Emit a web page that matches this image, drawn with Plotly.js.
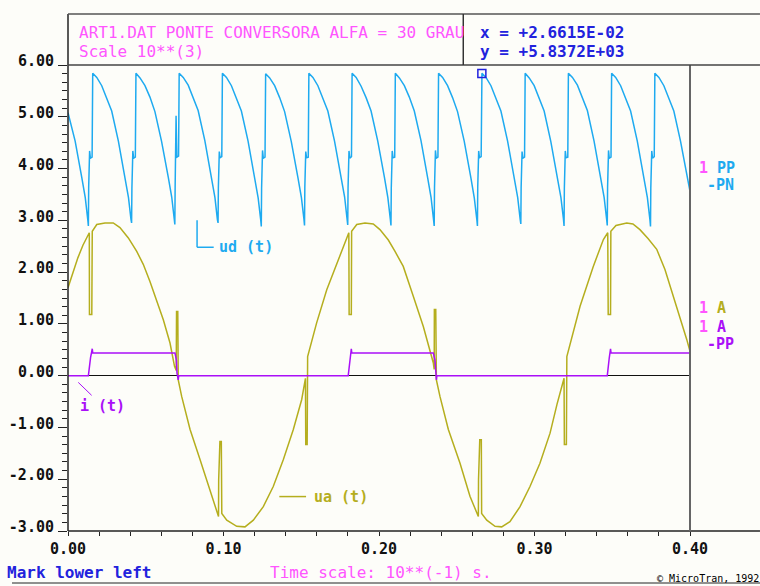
<!DOCTYPE html>
<html><head><meta charset="utf-8">
<script src="https://cdn.plot.ly/plotly-3.0.1.min.js"></script>
<style>html,body{margin:0;padding:0;background:#fdfdf9;}#c{width:760px;height:586px;}</style>
</head><body><div id="c"></div>
<script>
// ---- data (time in 10**(-1) s, values in 10**3) ----
const udT = [
 0.0000,0.0046,0.0089,0.0111,0.0127,0.0131,0.0133,0.0139,0.0144,0.0155,
 0.0159,0.0185,0.0217,0.0249,0.0281,0.0324,0.0367,0.0389,0.0405,0.0409,0.0411,0.0417,0.0422,0.0433,
 0.0437,0.0463,0.0495,0.0527,0.0559,0.0602,0.0645,0.0667,0.0683,0.0687,0.0689,0.0695,0.0700,0.0711,
 0.0715,0.0741,0.0773,0.0805,0.0837,0.0880,0.0923,0.0945,0.0961,0.0965,0.0967,0.0973,0.0978,0.0989,
 0.0993,0.1019,0.1051,0.1083,0.1115,0.1158,0.1201,0.1223,0.1239,0.1243,0.1245,0.1251,0.1256,0.1267,
 0.1271,0.1297,0.1329,0.1361,0.1393,0.1436,0.1479,0.1501,0.1517,0.1521,0.1523,0.1529,0.1534,0.1545,
 0.1549,0.1575,0.1607,0.1639,0.1671,0.1714,0.1757,0.1779,0.1795,0.1799,0.1801,0.1807,0.1812,0.1823,
 0.1827,0.1853,0.1885,0.1917,0.1949,0.1992,0.2035,0.2057,0.2073,0.2077,0.2079,0.2085,0.2090,0.2101,
 0.2105,0.2131,0.2163,0.2195,0.2227,0.2270,0.2313,0.2335,0.2351,0.2355,0.2357,0.2363,0.2368,0.2379,
 0.2383,0.2409,0.2441,0.2473,0.2505,0.2548,0.2591,0.2613,0.2629,0.2633,0.2635,0.2641,0.2646,0.2657,
 0.2662,0.2688,0.2720,0.2752,0.2784,0.2827,0.2870,0.2892,0.2908,0.2912,0.2914,0.2920,0.2925,0.2936,
 0.2940,0.2966,0.2998,0.3030,0.3062,0.3105,0.3148,0.3170,0.3186,0.3190,0.3192,0.3198,0.3203,0.3214,
 0.3218,0.3244,0.3276,0.3308,0.3340,0.3383,0.3426,0.3448,0.3464,0.3468,0.3470,0.3476,0.3481,0.3492,
 0.3496,0.3522,0.3554,0.3586,0.3618,0.3661,0.3704,0.3726,0.3742,0.3746,0.3748,0.3754,0.3759,0.3770,
 0.3774,0.3800,0.3832,0.3864,0.3896,0.3939,0.3982,0.4000
];
const udV = [
 5.08,4.53,3.82,3.44,3.02,2.89,3.64,4.34,4.20,4.22,
 5.84,5.76,5.60,5.37,5.11,4.53,3.82,3.44,3.02,2.95,3.62,4.34,4.20,4.22,
 5.84,5.75,5.60,5.38,5.10,4.52,3.83,3.45,3.03,2.92,3.64,5.02,4.22,4.24,
 5.84,5.76,5.61,5.37,5.12,4.54,3.82,3.44,3.01,2.95,3.63,4.33,4.21,4.23,
 5.84,5.76,5.60,5.36,5.11,4.53,3.81,3.43,3.02,2.88,3.62,4.35,4.20,4.22,
 5.83,5.75,5.60,5.37,5.10,4.52,3.82,3.44,3.03,2.90,3.64,4.33,4.21,4.22,
 5.84,5.76,5.60,5.37,5.11,4.53,3.82,3.45,3.02,2.91,3.63,4.34,4.20,4.23,
 5.84,5.76,5.59,5.37,5.11,4.53,3.83,3.44,3.02,2.90,3.62,4.34,4.21,4.22,
 5.84,5.75,5.60,5.38,5.11,4.54,3.82,3.44,3.01,2.89,3.63,4.35,4.20,4.22,
 5.84,5.76,5.60,5.37,5.10,4.53,3.82,3.43,3.02,2.89,3.64,4.34,4.21,4.23,
 5.84,5.76,5.60,5.37,5.11,4.53,3.81,3.44,3.02,2.93,3.63,4.33,4.20,4.22,
 5.84,5.75,5.60,5.37,5.11,4.52,3.82,3.44,3.03,2.89,3.62,4.34,4.21,4.22,
 5.84,5.76,5.61,5.37,5.12,4.53,3.82,3.44,3.02,2.90,3.63,4.35,4.20,4.22,
 5.84,5.76,5.60,5.37,5.11,4.53,3.82,3.44,3.02,2.88,3.63,4.34,4.20,4.23,
 5.84,5.76,5.60,5.37,5.11,4.53,3.82,3.56
];
const uaT = [
 0.0000,0.0032,0.0064,0.0096,0.0137,0.0138,0.0153,0.0156,0.0185,0.0238,0.0291,0.0334,0.0388,0.0442,
 0.0484,0.0527,0.0570,0.0613,0.0656,0.0685,0.0696,0.0698,0.0706,0.0709,0.0731,0.0785,0.0849,0.0913,
 0.0956,0.0968,0.0969,0.0977,0.0986,0.0989,0.1021,0.1085,0.1138,0.1192,0.1256,0.1320,0.1385,0.1449,
 0.1503,0.1527,0.1529,0.1538,0.1541,0.1599,0.1664,0.1728,0.1770,0.1806,0.1808,0.1822,0.1824,0.1857,
 0.1910,0.1963,0.2006,0.2060,0.2103,0.2156,0.2221,0.2285,0.2349,0.2355,0.2356,0.2365,0.2369,0.2392,
 0.2446,0.2521,0.2585,0.2628,0.2639,0.2640,0.2648,0.2658,0.2660,0.2693,0.2746,0.2789,0.2842,0.2907,
 0.2971,0.3035,0.3100,0.3145,0.3190,0.3192,0.3205,0.3208,0.3293,0.3378,0.3443,0.3471,0.3474,0.3489,
 0.3491,0.3524,0.3593,0.3633,0.3678,0.3730,0.3786,0.3839,0.3893,0.3936,0.3979,0.4000
];
const uaV = [
 1.70,2.00,2.28,2.52,2.76,1.18,1.18,2.79,2.92,2.95,2.95,2.86,2.66,2.40,
 2.15,1.82,1.47,1.08,0.63,0.18,0.10,1.24,1.24,-0.08,-0.40,-1.04,-1.62,-2.21,
 -2.59,-2.72,-2.01,-1.27,-1.27,-2.66,-2.79,-2.91,-2.92,-2.79,-2.53,-2.14,-1.62,-1.04,
 -0.46,-0.05,-1.33,-1.33,0.37,1.02,1.66,2.15,2.50,2.76,1.18,1.18,2.79,2.92,
 2.95,2.93,2.82,2.62,2.40,2.11,1.53,0.95,0.25,0.12,1.28,1.28,-0.08,-0.40,
 -1.04,-1.69,-2.33,-2.66,-2.72,-2.01,-1.24,-1.24,-2.66,-2.79,-2.91,-2.92,-2.82,-2.53,
 -2.14,-1.69,-1.11,-0.55,-0.05,-1.33,-1.33,0.37,1.34,2.11,2.63,2.76,1.18,1.18,
 2.79,2.90,2.95,2.93,2.82,2.65,2.44,2.05,1.53,1.15,0.70,0.47
];
const iT = [0.0000,0.0131,0.0145,0.0148,0.0156,0.0159,0.0688,0.0697,0.0701,0.0709,0.0712,
            0.1802,0.1815,0.1818,0.1822,0.1825,0.2349,0.2360,0.2363,0.2369,0.2372,
            0.3468,0.3481,0.3484,0.3489,0.3492,0.4000];
const iV = [0,0,0.35,0.40,0.52,0.44,0.44,0.30,0.05,-0.08,0,
            0,0.35,0.40,0.52,0.44,0.44,0.30,0.05,-0.08,0,
            0,0.35,0.40,0.52,0.44,0.44];
const cursorX = [0.26615];
const cursorY = [5.8372];
const xTickVals = [0, 0.1, 0.2, 0.3, 0.4];
const xTickText = ['0.00','0.10','0.20','0.30','0.40'];
const yTickVals = [-3,-2,-1,0,1,2,3,4,5,6];
const yTickText = ['-3.00','-2.00','-1.00','0.00','1.00','2.00','3.00','4.00','5.00','6.00'];
const headerTitle = 'ART1.DAT PONTE CONVERSORA ALFA = 30 GRAU';
const headerScale = 'Scale 10**(3)';
const cursorText = ['x = +2.6615E-02', 'y = +5.8372E+03'];

// ---- styling ----
const BG = '#fdfdf9';
const CYAN = '#1eaaf0', OLIVE = '#b5ae1e', PURPLE = '#aa10f8', MAG = '#ff55ff', BLUE = '#2222dd';
const MONO = 'DejaVu Sans Mono, Liberation Mono, monospace';

const traces = [
  {x: udT, y: udV, mode: 'lines', line: {color: CYAN, width: 1.5}, hoverinfo: 'skip'},
  {x: uaT, y: uaV, mode: 'lines', line: {color: OLIVE, width: 1.5}, hoverinfo: 'skip'},
  {x: iT, y: iV, mode: 'lines', line: {color: PURPLE, width: 1.5}, hoverinfo: 'skip'},
  {x: cursorX, y: cursorY, mode: 'markers', marker: {symbol: 'square-open', size: 8, color: BLUE, line: {width: 1.5, color: BLUE}}, hoverinfo: 'skip'}
];

function ann(text, x, y, color, size, bold, xref, yref) {
  return {text: text, x: x, y: y, xref: xref || 'paper', yref: yref || 'paper',
    xanchor: 'left', yanchor: 'middle', showarrow: false,
    font: {family: MONO, size: size, color: color, weight: bold ? 'bold' : 'normal'}};
}
const annotations = [
  ann(headerTitle, 0.0145, 1.0687, MAG, 16, false),
  ann(headerScale, 0.0145, 1.0279, MAG, 16, false),
  ann(cursorText[0], 0.6592, 1.0687, BLUE, 16, true),
  ann(cursorText[1], 0.6592, 1.0279, BLUE, 16, true),
  ann('Mark lower left', -0.1013, -0.088, BLUE, 16, true),
  ann('Time scale: 10**(-1) s.', 0.3215, -0.088, MAG, 16, false),
  ann('\u00a9 MicroTran, 1992', 0.9437, -0.1009, '#000000', 10, false),
  ann('<span style="color:' + MAG + '">1</span> PP', 1.0113, 0.779, CYAN, 15, true),
  ann('-PN', 1.0241, 0.7425, CYAN, 15, true),
  ann('<span style="color:' + MAG + '">1</span> A', 1.0113, 0.4785, OLIVE, 15, true),
  ann('<span style="color:' + MAG + '">1</span> A', 1.0113, 0.4378, PURPLE, 15, true),
  ann('-PP', 1.0241, 0.4013, PURPLE, 15, true),
  ann('ud (t)', 0.0956, 2.48, CYAN, 15, true, 'x', 'y'),
  ann('i (t)', 0.0064, -0.59, PURPLE, 15, true, 'x', 'y'),
  ann('ua (t)', 0.1567, -2.335, OLIVE, 15, true, 'x', 'y')
];

function pline(x0, y0, x1, y1, color, w) {
  return {type: 'line', xref: 'paper', yref: 'paper', x0: x0, y0: y0, x1: x1, y1: y1,
          line: {color: color, width: w}};
}
function dline(x0, y0, x1, y1, color, w) {
  return {type: 'line', xref: 'x', yref: 'y', x0: x0, y0: y0, x1: x1, y1: y1,
          line: {color: color, width: w}};
}
const shapes = [
  pline(0, 0, 0, 1.1094, '#222222', 1.5),
  pline(0, 0, 1.1125, 0, '#222222', 1.5),
  pline(1, 0, 1, 1, '#666666', 2),
  pline(0, 1, 1.1125, 1, '#444444', 1.5),
  pline(0, 1.1094, 1.1125, 1.1094, '#555555', 1.5),
  pline(0.6355, 1, 0.6355, 1.1094, '#333333', 1.5),
  pline(-0.09, -0.1116, 1.12, -0.1116, '#222222', 1),
  dline(0.0830, 3.0, 0.0830, 2.48, CYAN, 1.5),
  dline(0.0830, 2.48, 0.0937, 2.48, CYAN, 1.5),
  dline(0.0066, -0.13, 0.0152, -0.38, PURPLE, 1),
  dline(0.1359, -2.335, 0.1531, -2.335, OLIVE, 1.5)
];

const layout = {
  width: 760, height: 586,
  margin: {l: 68, r: 70, t: 65, b: 55, pad: 0},
  paper_bgcolor: BG, plot_bgcolor: BG,
  showlegend: false,
  xaxis: {range: [0, 0.4], tickvals: xTickVals, ticktext: xTickText,
    ticks: 'outside', ticklen: 4, tickwidth: 1, tickcolor: '#222',
    minor: {dtick: 0.02, ticks: 'outside', ticklen: 4, tickcolor: '#222'},
    showgrid: false, zeroline: false, showline: false,
    tickfont: {family: MONO, size: 15, color: '#111', weight: 'bold'}},
  yaxis: {range: [-3, 6], tickvals: yTickVals, ticktext: yTickText,
    ticks: 'outside', ticklen: 9, tickwidth: 1, tickcolor: '#222',
    minor: {tick0: -3, dtick: 1/6, ticks: 'outside', ticklen: 5, tickcolor: '#222'},
    ticklabelshift: -4, ticklabelstandoff: 1,
    showgrid: false, zeroline: true, zerolinecolor: '#111', zerolinewidth: 1.5, showline: false,
    tickfont: {family: MONO, size: 15, color: '#111', weight: 'bold'}},
  annotations: annotations,
  shapes: shapes
};
Plotly.newPlot('c', traces, layout, {displayModeBar: false, staticPlot: true});
</script></body></html>
